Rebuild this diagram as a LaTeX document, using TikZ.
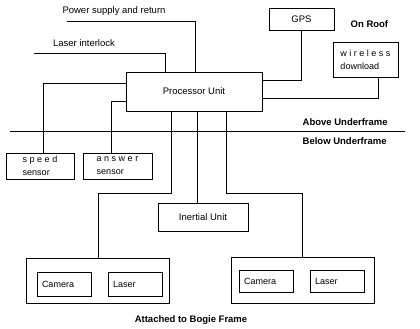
\documentclass[tikz,border=0pt]{standalone}
\usepackage{fontspec}
\setmainfont{Liberation Sans}
\usepackage{xcolor}
\usepackage{tikz}
\usetikzlibrary{positioning}

\begin{document}
\begin{tikzpicture}[x=1pt, y=-1pt, line width=0.7pt,
    unit/.style={rectangle, draw, font=\fontsize{9.5}{11}\selectfont, inner sep=2pt},
    part/.style={rectangle, draw, font=\fontsize{9}{10}\selectfont, text width=44pt,
                 align=left, minimum width=54pt, minimum height=24pt, inner xsep=5pt},
    sensor/.style={rectangle, draw, font=\fontsize{9}{13}\selectfont, align=left,
                   minimum height=26pt, inner sep=1pt},
    lbl/.style={font=\fontsize{9.5}{11}\selectfont},
    zone/.style={font=\bfseries\fontsize{9.5}{11}\selectfont}]
  \useasboundingbox (0,0) rectangle (420,329);

  \node[unit, minimum width=136pt, minimum height=39pt] (proc) at (194,91.5) {Processor Unit};
  \node[unit, minimum width=65pt, minimum height=22pt] (gps) at (301.5,19) {GPS};
  \node[sensor, minimum width=65pt, minimum height=35pt] (wl) at (365.5,59.5)
    {w i r e l e s s\\download};
  \node[sensor, minimum width=68pt] (spd) at (40,166) {s p e e d\\sensor};
  \node[sensor, minimum width=69pt] (ans) at (117.5,166) {a n s w e r\\sensor};
  \node[unit, minimum width=90pt, minimum height=28pt] (iner) at (203,217) {Inertial Unit};

  \node[unit, minimum width=143pt, minimum height=45pt] (bogL) at (98,280.5) {};
  \node[part] (camL) at (64,284.5) {Camera};
  \node[part] (lasL) at (135,284.5) {Laser};
  \node[unit, minimum width=143pt, minimum height=46pt] (bogR) at (302.5,280) {};
  \node[part, minimum height=22pt] (camR) at (266,281) {Camera};
  \node[part, minimum height=22pt] (lasR) at (337,281) {Laser};

  \node[lbl] (pwrlbl) at (114,11) {Power supply and return};
  \node[lbl] (ilklbl) at (84,43) {Laser interlock};
  \node[zone, anchor=west] (roof) at (347,24) {On Roof};
  \node[zone, anchor=west] (above) at (299,122) {Above Underframe};
  \node[zone, anchor=west] (below) at (299,141) {Below Underframe};
  \node[zone] (bogie) at (191,320) {Attached to Bogie Frame};

  \coordinate (pwr) at (67,21);
  \coordinate (ilk) at (34,53);
  \coordinate (ufl) at (10,131);
  \coordinate (ufr) at (405,131);
  \coordinate (jl) at (98,193);
  \coordinate (jr) at (302.5,193);
  \coordinate (pin) at ([xshift=72pt]proc.south west);

  \draw (pwr) -| ([xshift=70pt]proc.north west);
  \draw (ilk) -| ([xshift=40pt]proc.north west);
  \draw (gps.south) |- ([yshift=11.5pt]proc.east);
  \draw ([xshift=12.5pt]wl.south) |- ([yshift=-6.5pt]proc.east);
  \draw ([yshift=8.5pt]proc.west) -| ([xshift=3pt]spd.north);
  \draw ([yshift=-9.5pt]proc.west) -| ([xshift=-6.5pt]ans.north);
  \draw ([xshift=46pt]proc.south west) |- (jl) -- (bogL.north);
  \draw (pin) -- (pin |- iner.north);
  \draw ([xshift=101pt]proc.south west) |- (jr) -- (bogR.north);
  \draw (ufl) -- (ufr);
\end{tikzpicture}
\end{document}
